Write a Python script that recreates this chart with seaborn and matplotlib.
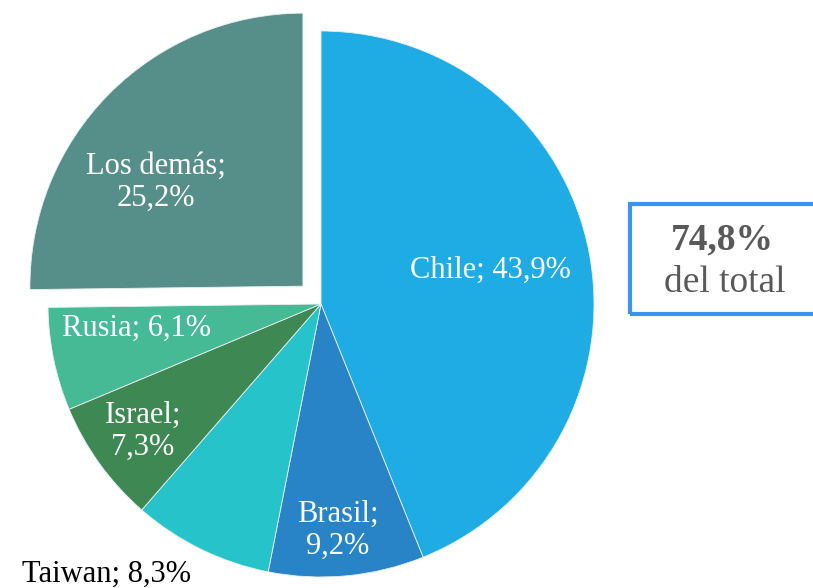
import matplotlib
matplotlib.use("Agg")
import matplotlib.pyplot as plt
import seaborn as sns
from matplotlib.patches import Rectangle

countries = ["Chile", "Brasil", "Taiwan", "Israel", "Rusia", "Los demás"]
shares = [43.9, 9.2, 8.3, 7.3, 6.1, 25.2]
colors = ["#1FABE3", "#2884C7", "#27C3CB", "#3E8853", "#45BA94", "#568F89"]
explode_flags = [0, 0, 0, 0, 0, 1]
summary_value = "74,8%"
summary_text = "del total"

sns.set_theme(style="white")
plt.rcParams["font.family"] = ["Liberation Serif", "DejaVu Serif"]

W, H = 813, 588
fig = plt.figure(figsize=(W / 100, H / 100), dpi=100)
ax = fig.add_axes([0, 0, 1, 1])

R = 273
cx, cy = 321, H - 304
ax.pie(shares, colors=colors, startangle=90, counterclock=False,
       radius=R, center=(cx, cy),
       explode=[0.093 * R * e for e in explode_flags],
       wedgeprops=dict(linewidth=0.6, edgecolor="#e8f0f0"))
ax.set_xlim(0, W)
ax.set_ylim(0, H)
ax.set_aspect("equal")
ax.axis("off")

def fmt(v):
    return f"{v:.1f}".replace(".", ",") + "%"

lab = {c: fmt(v) for c, v in zip(countries, shares)}
fs = 22
ax.text(490, H - 270, f"Chile; {lab['Chile']}", color="white", fontsize=fs, ha="center", va="center")
ax.text(338, H - 530, f"Brasil;\n{lab['Brasil']}", color="white", fontsize=fs, ha="center", va="center", linespacing=1.15)
ax.text(106, H - 574, f"Taiwan; {lab['Taiwan']}", color="black", fontsize=fs, ha="center", va="center")
ax.text(143, H - 431, f"Israel;\n{lab['Israel']}", color="white", fontsize=fs, ha="center", va="center", linespacing=1.15)
ax.text(136, H - 328, f"Rusia; {lab['Rusia']}", color="white", fontsize=fs, ha="center", va="center")
ax.text(156, H - 182, f"Los demás;\n{lab['Los demás']}", color="white", fontsize=fs, ha="center", va="center", linespacing=1.15)

ax.add_patch(Rectangle((630, H - 314), 200, 110, fill=False, edgecolor="#3C92F0", linewidth=3, clip_on=True))
ax.text(722, H - 240, summary_value, color="#595959", fontsize=27, fontweight="bold", ha="center", va="center")
ax.text(725, H - 283, summary_text, color="#595959", fontsize=27, ha="center", va="center")

fig.savefig("out.png", dpi=100)
